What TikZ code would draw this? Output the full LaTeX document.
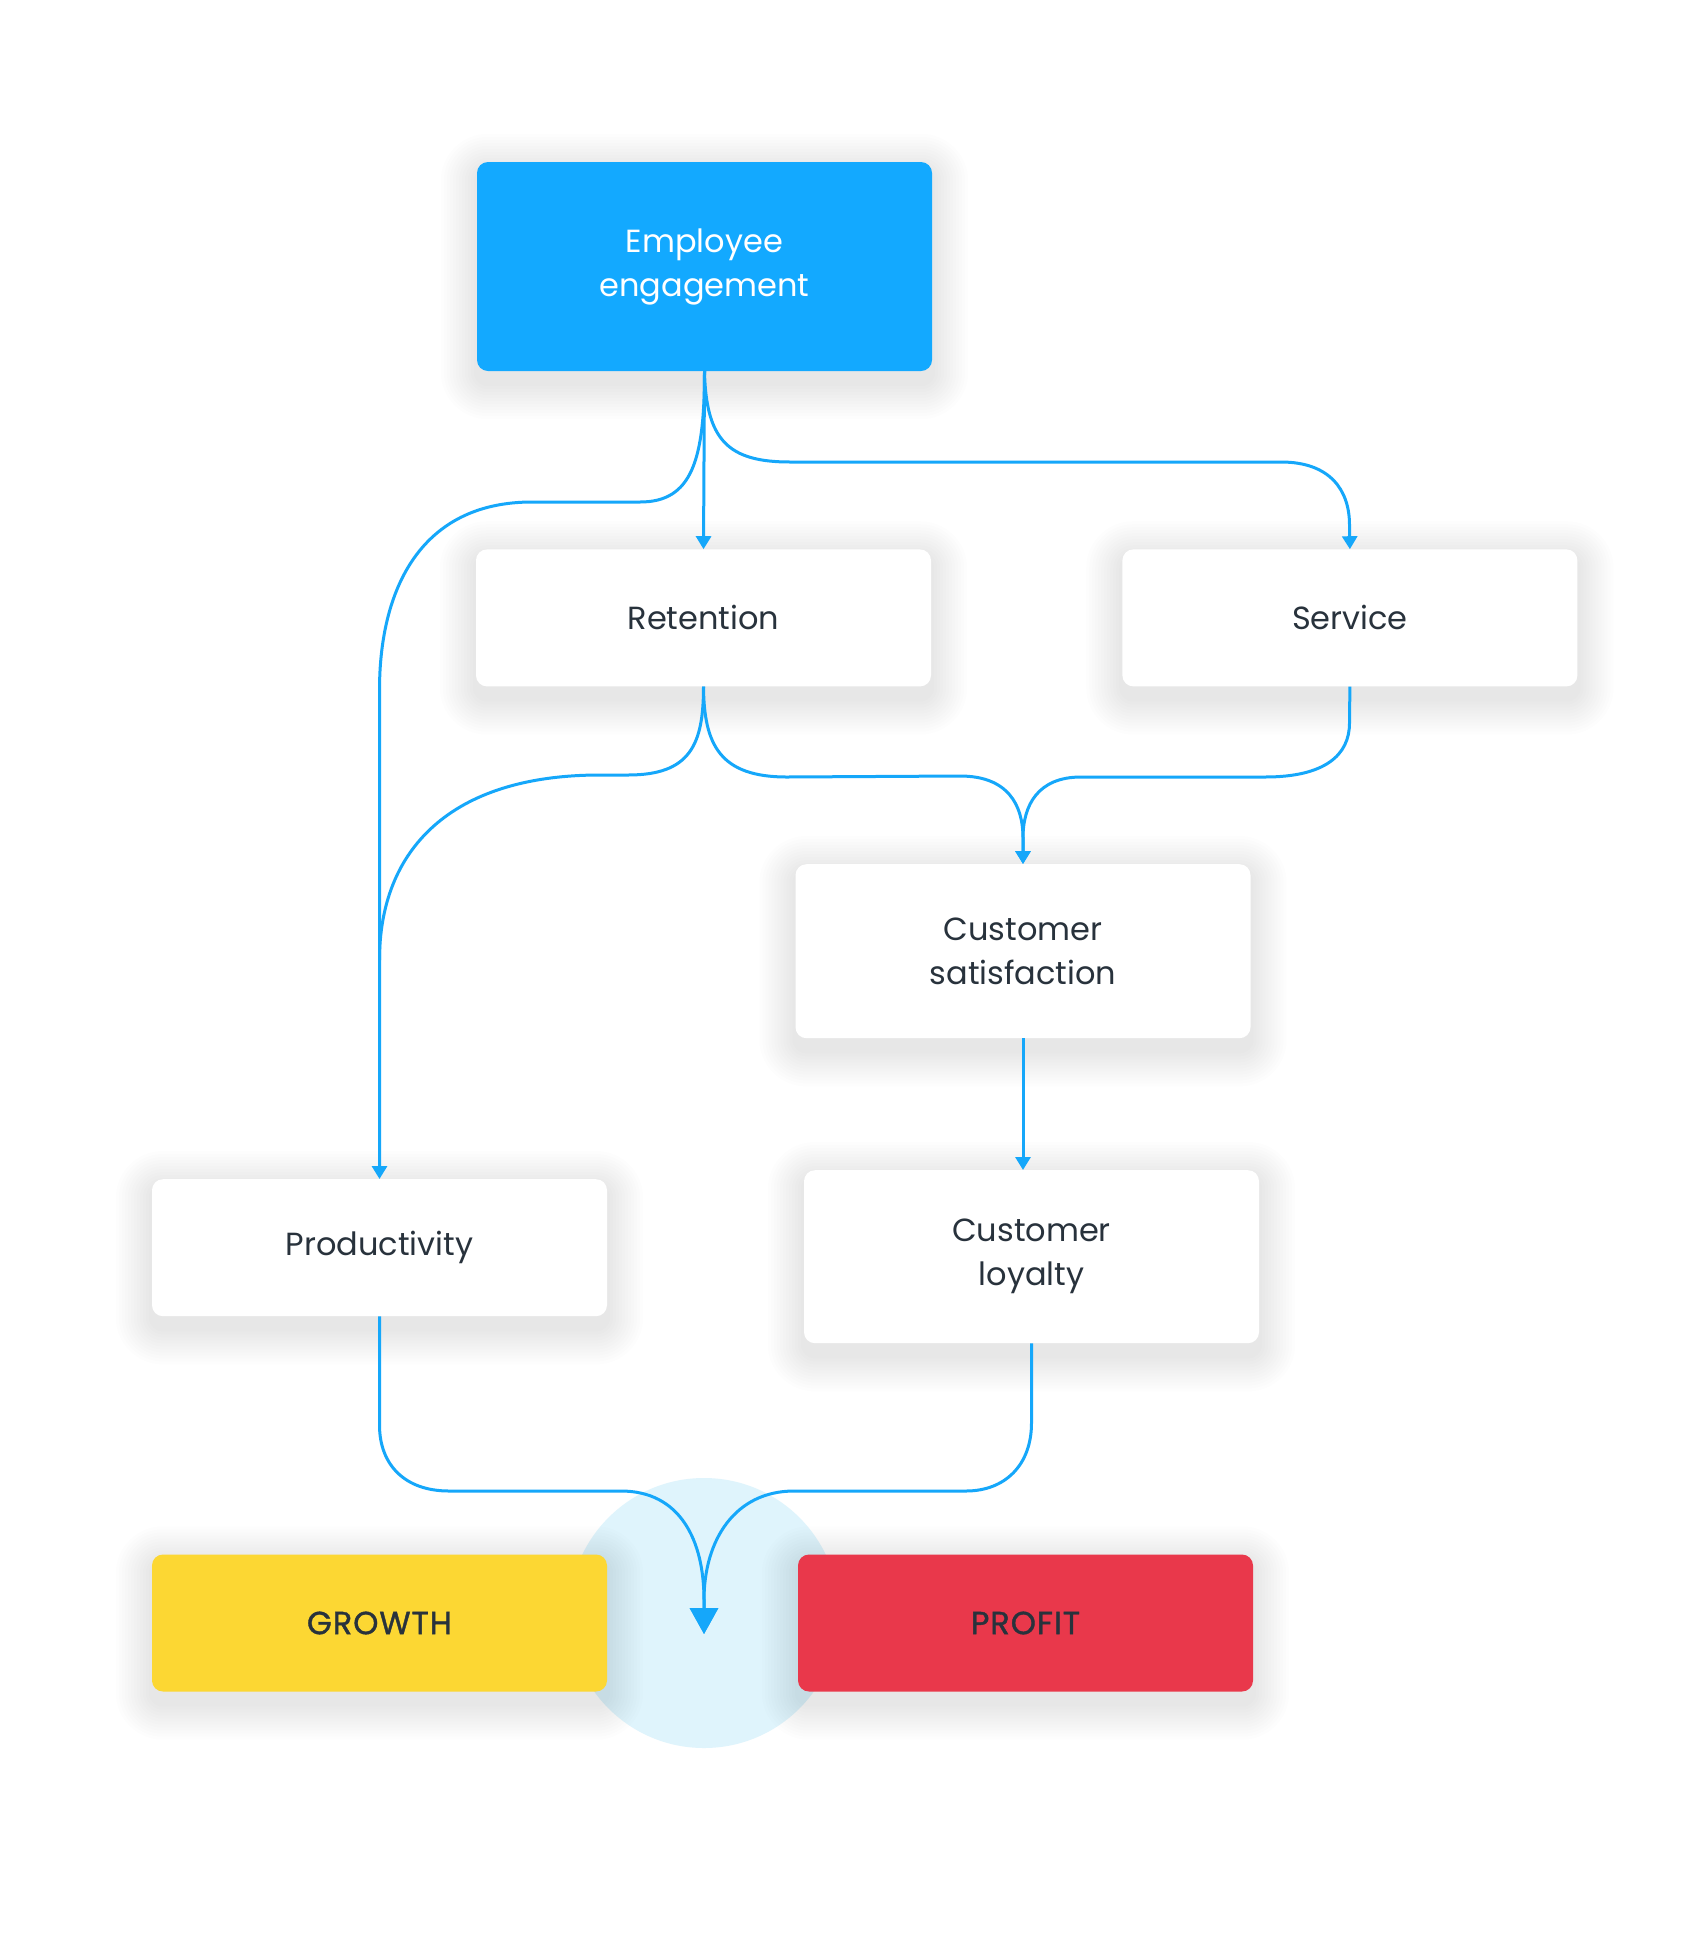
\documentclass[tikz,border=0pt]{standalone}
\usepackage{fontspec}
\setmainfont{Poppins}
\usetikzlibrary{positioning, calc, arrows.meta, backgrounds}
\definecolor{linkblue}{HTML}{15A7FA}
\definecolor{engblue}{HTML}{13A9FF}
\definecolor{growyellow}{HTML}{FCD733}
\definecolor{profitred}{HTML}{E9384B}
\definecolor{hubblue}{HTML}{DFF4FC}
\definecolor{inkgray}{HTML}{28323C}
\newcommand{\cardfont}{\fontsize{32}{44}\selectfont}
\newcommand{\goalfont}{\fontsize{32}{44}\selectfont\addfontfeatures{FakeBold=1.2, LetterSpace=3}}
\tikzset{card/.style={rectangle, rounded corners=11pt, minimum width=455pt, minimum height=137pt,
    fill=white, text=inkgray, align=center, font=\cardfont}}
\tikzset{haze/.style={fill=black, fill opacity=0.008, draw=none}}
\tikzset{link/.style={draw=linkblue, line width=3pt, -{Triangle[length=13pt,width=15pt]}}}
\tikzset{merge/.style={draw=linkblue, line width=3pt, -{Triangle[length=26pt,width=28pt]}}}
\tikzset{feeder/.style={draw=linkblue, line width=3pt}}

\begin{document}
\begin{tikzpicture}[x=1pt, y=-1pt]

      \useasboundingbox (0,0) rectangle (1707,1944);
      \coordinate (tip) at (704,1634);

      % BOXES

      \node[card, minimum height=209pt, fill=engblue, text=white] (ee) at (704.5,266.5) {Employee\\engagement};
      \node[card, anchor=north] (ret) at ($(ee.south)+(-1,178)$) {Retention};
      \node[card, anchor=west] (srv) at ($(ret.east)+(191,0)$) {Service};
      \node[card, minimum height=174pt, anchor=north] (cs) at (1023,864) {Customer\\satisfaction};
      \node[card, anchor=north] (prod) at (379.5,1179) {Productivity};
      \node[card, minimum height=173pt, anchor=north] (cl) at (1031.5,1170) {Customer\\loyalty};
      \node[card, fill=growyellow, font=\goalfont] (grow) at (379.5,1623) {GROWTH};
      \node[card, fill=profitred, font=\goalfont] (profit) at (1025.5,1623) {PROFIT};

      % HUB AND SHADOWS

      \begin{scope}[on background layer]
        \fill[white] (0,0) rectangle (1707,1944);
        \node[circle, fill=hubblue, minimum size=270pt, inner sep=0pt] (hub) at (704,1613) {};
        \foreach \n in {ee, ret, srv, cs, prod, cl, grow, profit}
          \foreach \k in {1,...,12} {
            \pgfmathsetmacro{\r}{11+3*\k}
            \fill[haze, rounded corners=\r pt] ($(\n.south west)+(-3*\k,3*\k+12)$) rectangle ($(\n.north east)+(3*\k,-3*\k+8)$);
          }
      \end{scope}

      % ARCS

      \draw[link] (ee.south) -- (ret.north);
      \draw[link] (ee.south) .. controls (706,440) and (728,462) .. (790,462) -- (1281,462)
        .. controls (1330,462) and (1349.5,490) .. (1349.5,525) -- (srv.north);
      \draw[link] (ee.south) .. controls (704.5,460) and (692,502) .. (640,502) -- (532,502)
        .. controls (420,502) and (379.5,590) .. (379.5,690) -- (prod.north);

      \draw[feeder] (ret.south) .. controls (703.5,745) and (690,775) .. (628,775) -- (600,775)
        .. controls (450,775) and (379.5,850) .. (379.5,960);
      \draw[link] (ret.south) .. controls (704,745) and (720,777) .. (787,777) -- (960,776)
        .. controls (1008,776) and (1023,805) .. (1023,838) -- (cs.north);
      \draw[link] (srv.south) -- (1349.5,723) .. controls (1349.5,755) and (1325,777) .. (1265,777)
        -- (1081,777) .. controls (1038,777) and (1023,805) .. (1023,838) -- (cs.north);

      \draw[link] (cs.south) -- (cs.south |- cl.north);

      \draw[merge] (prod.south) -- (379.5,1425) .. controls (379.5,1465) and (405,1491) .. (449,1491)
        -- (621,1491) .. controls (680,1491) and (704,1540) .. (704,1600) -- (tip);
      \draw[merge] (cl.south) -- (1031.5,1423) .. controls (1031.5,1465) and (1005,1491) .. (966,1491)
        -- (794,1491) .. controls (735,1491) and (704,1540) .. (704,1600) -- (tip);

\end{tikzpicture}
\end{document}
